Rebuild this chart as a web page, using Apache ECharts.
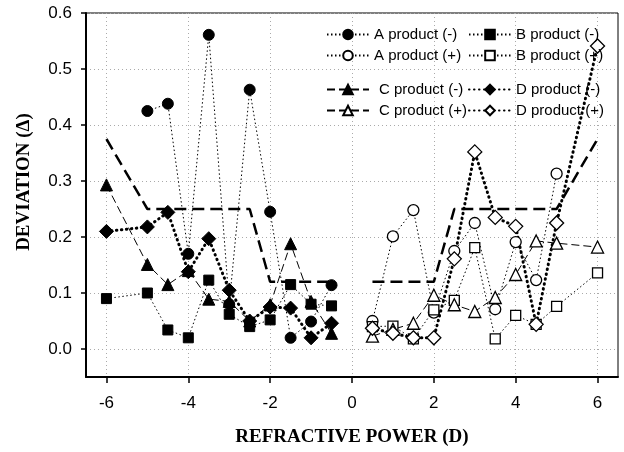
<!DOCTYPE html>
<html><head><meta charset="utf-8">
<script src="https://cdn.jsdelivr.net/npm/echarts@6/dist/echarts.min.js"></script>
<style>html,body{margin:0;padding:0;background:#fff}#c{width:624px;height:452px}</style>
</head><body><div id="c"></div>
<script>
const xNeg = [-6, -5, -4.5, -4, -3.5, -3, -2.5, -2, -1.5, -1, -0.5];
const xPos = [0.5, 1, 1.5, 2, 2.5, 3, 3.5, 4, 4.5, 5, 6];
const aMinus = [null, 0.425, 0.438, 0.17, 0.561, 0.08, 0.463, 0.245, 0.02, 0.049, 0.114];
const aPlus  = [0.05, 0.201, 0.248, 0.065, 0.175, 0.225, 0.071, 0.191, 0.123, 0.313, null];
const bMinus = [0.09, 0.1, 0.034, 0.02, 0.123, 0.062, 0.04, 0.052, 0.115, 0.08, 0.077];
const bPlus  = [0.04, 0.041, 0.018, 0.07, 0.087, 0.181, 0.018, 0.06, 0.044, 0.076, 0.136];
const cMinus = [0.293, 0.151, 0.115, 0.14, 0.089, 0.085, 0.05, 0.079, 0.188, 0.085, 0.028];
const cPlus  = [0.023, 0.035, 0.046, 0.096, 0.079, 0.067, 0.092, 0.133, 0.193, 0.189, 0.182];
const dMinus = [0.21, 0.218, 0.244, 0.138, 0.197, 0.105, 0.05, 0.075, 0.073, 0.02, 0.046];
const dPlus  = [0.037, 0.028, 0.02, 0.02, 0.161, 0.352, 0.235, 0.219, 0.044, 0.225, 0.541];
const refNegX = [-6, -5, -2.5, -2, -0.5];
const refNegY = [0.375, 0.25, 0.25, 0.12, 0.12];
const refPosX = [0.5, 2, 2.5, 5, 6];
const refPosY = [0.12, 0.12, 0.25, 0.25, 0.375];
const xTicks = [-6, -4, -2, 0, 2, 4, 6];
const yTicks = [0, 0.1, 0.2, 0.3, 0.4, 0.5, 0.6];

const pair = (xs, ys) => xs.map((x, i) => [x, ys[i]]).filter(p => p[1] !== null);

const thinDot = { color: '#000', width: 1, type: [1.5, 2.5] };
const thinDash = { color: '#000', width: 1, type: [8, 4] };
const thickDot = { color: '#000', width: 3, type: [0.5, 4.5], cap: 'round' };
const filled = { color: '#000', borderColor: '#000', borderWidth: 1 };
const open = { color: '#fff', borderColor: '#000', borderWidth: 1.3 };

function s(name, data, symbol, size, ls, is) {
  return { name, type: 'line', data, symbol, symbolSize: size, showSymbol: true,
    lineStyle: ls, itemStyle: is, emphasis: { disabled: true }, animation: false, z: 3 };
}

const series = [
  { name: 'ref', type: 'line', data: pair(refNegX, refNegY).concat([[0, null]], pair(refPosX, refPosY)),
    symbol: 'none', connectNulls: false,
    lineStyle: { color: '#000', width: 2.5, type: [12, 6] }, z: 2, animation: false },
  s('A product (-)', pair(xNeg, aMinus), 'circle', 11, thinDot, filled),
  s('A product (+)', pair(xPos, aPlus), 'circle', 11, thinDot, open),
  s('B product (-)', pair(xNeg, bMinus), 'rect', 10, thinDot, filled),
  s('B product (+)', pair(xPos, bPlus), 'rect', 10, thinDot, open),
  s('C product (-)', pair(xNeg, cMinus), 'triangle', 12, thinDash, filled),
  s('C product (+)', pair(xPos, cPlus), 'triangle', 12, thinDash, open),
  s('D product (-)', pair(xNeg, dMinus), 'diamond', 14, thickDot, filled),
  s('D product (+)', pair(xPos, dPlus), 'diamond', 14, thickDot, open)
];

const legText = { fontFamily: 'Liberation Sans', fontSize: 15, color: '#000' };
function leg(data, left, top, pad) {
  return { data, left, top, orient: 'vertical', itemWidth: 42, itemHeight: 12, itemGap: 6,
    textStyle: Object.assign({ padding: [0, 0, 0, pad] }, legText), selectedMode: false, padding: 0 };
}

const chart = echarts.init(document.getElementById('c'), null, { renderer: 'canvas' });
chart.setOption({
  backgroundColor: '#fff',
  animation: false,
  legend: [
    leg(['A product (-)', 'A product (+)'], 326, 27, 0),
    leg(['B product (-)', 'B product (+)'], 468, 27, 0),
    leg(['C product (-)', 'C product (+)'], 326, 82, 5),
    leg(['D product (-)', 'D product (+)'], 468, 82, 0)
  ],
  grid: { left: 86, right: 6, top: 13, bottom: 73, show: true, borderColor: '#000', borderWidth: 1 },
  xAxis: {
    type: 'value', min: -6.5, max: 6.5,
    name: 'REFRACTIVE POWER (D)', nameLocation: 'middle', nameGap: 51,
    nameTextStyle: { fontFamily: 'Liberation Serif', fontWeight: 'bold', fontSize: 19, color: '#000' },
    axisLine: { show: true, onZero: false, lineStyle: { color: '#000', width: 2 } },
    axisTick: { show: true, customValues: xTicks, length: 6, lineStyle: { color: '#000', width: 1.5 } },
    axisLabel: { customValues: xTicks, margin: 18, fontFamily: 'Liberation Sans', fontSize: 17, color: '#000',
      formatter: v => String(v) },
    splitLine: { show: true, lineStyle: { color: '#aaa', width: 1, type: [1, 3] } }
  },
  yAxis: {
    type: 'value', min: -0.05, max: 0.6,
    name: 'DEVIATION (Δ)', nameLocation: 'middle', nameGap: 52,
    nameTextStyle: { fontFamily: 'Liberation Serif', fontWeight: 'bold', fontSize: 19, color: '#000', padding: [0, 0, 0, 26] },
    axisLine: { show: true, onZero: false, lineStyle: { color: '#000', width: 2 } },
    axisTick: { show: true, customValues: yTicks, length: 5, lineStyle: { color: '#000', width: 1.5 } },
    axisLabel: { customValues: yTicks, margin: 14, fontFamily: 'Liberation Sans', fontSize: 17, color: '#000',
      formatter: v => v.toFixed(1) },
    splitLine: { show: true, lineStyle: { color: '#aaa', width: 1, type: [1, 3] } }
  },
  series
});
</script></body></html>
